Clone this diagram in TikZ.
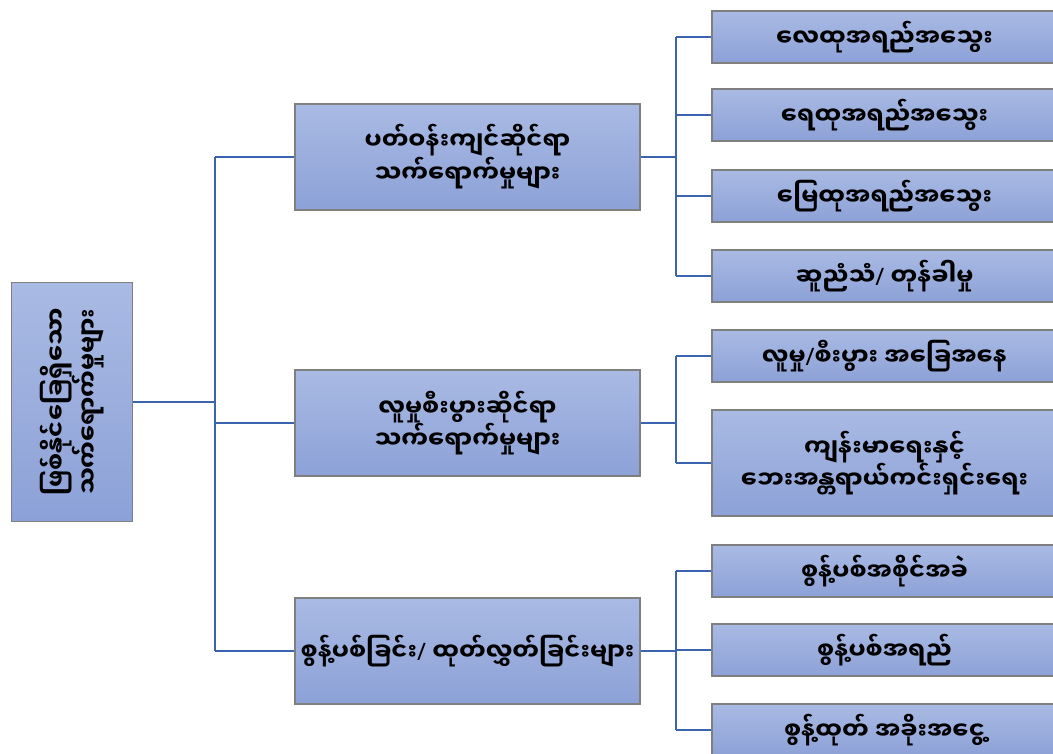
\documentclass[tikz,border=0pt]{standalone}
\usepackage{fontspec}
\usepackage{xcolor}
\usepackage{tikz}
\newfontfamily\mmfont[Script=Myanmar]{Noto Sans Myanmar UI}
\newfontfamily\latinfont{Noto Sans}
\newcommand\mmslash{{\latinfont\bfseries /}}

\definecolor{boxtop}{HTML}{A9BAE3}
\definecolor{boxbot}{HTML}{8CA1D7}
\definecolor{boxline}{HTML}{7F7F7F}
\definecolor{linkblue}{HTML}{3B64AE}

\begin{document}
\begin{tikzpicture}[x=1pt,y=-1pt,
    box/.style={draw=boxline, line width=1.2pt, top color=boxtop, bottom color=boxbot,
        align=center, inner sep=0pt, font=\mmfont\bfseries\fontsize{24}{31}\selectfont},
    midbox/.style={box, minimum width=345pt, minimum height=106pt},
    leafbox/.style={box, minimum width=345pt, minimum height=52pt},
    link/.style={linkblue, line width=2pt}]
                    \useasboundingbox (0,0) rectangle (1053,753);

                    % root, turned on its side
                    \node[box, rotate=90, minimum width=239pt, minimum height=121pt] (root) at (72,402)
                        {ဖြစ်နိုင်ခြေရှိသော\\သက်ရောက်မှုများ};

                    % middle column
                    \node[midbox] (envi) at (467.5,157) {ပတ်ဝန်းကျင်ဆိုင်ရာ\\သက်ရောက်မှုများ};
                    \node[midbox] (socio) at (467.5,423) {လူမှုစီးပွားဆိုင်ရာ\\သက်ရောက်မှုများ};
                    \node[midbox] (emis) at (467.5,651) {စွန့်ပစ်ခြင်း\mmslash{} ထုတ်လွှတ်ခြင်းများ};

                    % right column
                    \node[leafbox] (air) at (884.5,37) {လေထုအရည်အသွေး};
                    \node[leafbox] (water) at (884.5,115) {ရေထုအရည်အသွေး};
                    \node[leafbox] (soil) at (884.5,196) {မြေထုအရည်အသွေး};
                    \node[leafbox] (noise) at (884.5,276) {ဆူညံသံ\mmslash{} တုန်ခါမှု};
                    \node[leafbox] (econ) at (884.5,356) {လူမှု\mmslash{}စီးပွား အခြေအနေ};
                    \node[leafbox, minimum height=106pt] (health) at (884.5,463)
                        {ကျန်းမာရေးနှင့်\\ဘေးအန္တရာယ်ကင်းရှင်းရေး};
                    \node[leafbox] (solid) at (884.5,571) {စွန့်ပစ်အစိုင်အခဲ};
                    \node[leafbox] (liquid) at (884.5,650) {စွန့်ပစ်အရည်};
                    \node[leafbox] (gas) at (884.5,730) {စွန့်ထုတ် အခိုးအငွေ့};

                    \coordinate (trunk) at (215,402);
                    \coordinate (fork) at (676,0);

                    \draw[link] (root.south) -- (trunk);
                    \draw[link] (trunk |- envi) -- (trunk |- emis);
                    \foreach \m in {envi,socio,emis}
                        \draw[link] (trunk |- \m) -- (\m.west);

                    \draw[link] (envi.east) -- (fork |- envi);
                    \draw[link] (fork |- air) -- (fork |- noise);
                    \foreach \l in {air,water,soil,noise}
                        \draw[link] (fork |- \l) -- (\l.west);

                    \draw[link] (socio.east) -- (fork |- socio);
                    \draw[link] (fork |- econ) -- (fork |- health);
                    \foreach \l in {econ,health}
                        \draw[link] (fork |- \l) -- (\l.west);

                    \draw[link] (emis.east) -- (fork |- emis);
                    \draw[link] (fork |- solid) -- (fork |- gas);
                    \foreach \l in {solid,liquid,gas}
                        \draw[link] (fork |- \l) -- (\l.west);
                \end{tikzpicture}
\end{document}
